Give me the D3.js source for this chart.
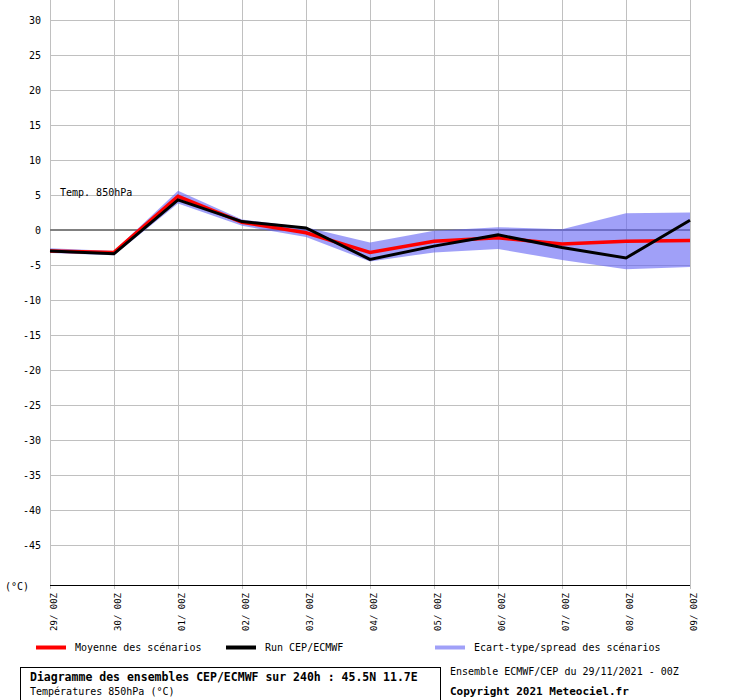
<!DOCTYPE html>
<html>
<head>
<meta charset="utf-8">
<script src="https://cdn.jsdelivr.net/npm/d3@7"></script>
<style>
  body { margin: 0; background: #fff; }
  text { font-family: "DejaVu Sans Mono", monospace; fill: #000; }
</style>
</head>
<body>
<script>
'use strict';

// ensemble data
const dayLabels = ["29/ 00Z", "30/ 00Z", "01/ 00Z", "02/ 00Z", "03/ 00Z", "04/ 00Z",
  "05/ 00Z", "06/ 00Z", "07/ 00Z", "08/ 00Z", "09/ 00Z"];
const meanTemp = [-3.0, -3.2, 4.8, 1.1, -0.4, -3.2, -1.6, -1.1, -2.0, -1.6, -1.5];
const runTemp = [-3.0, -3.4, 4.3, 1.2, 0.3, -4.2, -2.3, -0.7, -2.5, -4.0, 1.4];
const spreadHigh = [-2.6, -3.0, 5.6, 1.5, 0.4, -1.8, -0.1, 0.4, 0.1, 2.4, 2.5];
const spreadLow = [-3.3, -3.6, 3.8, 0.6, -1.0, -4.5, -3.2, -2.7, -4.3, -5.6, -5.3];
const yTicks = [30, 25, 20, 15, 10, 5, 0, -5, -10, -15, -20, -25, -30, -35, -40, -45];

(function() {

  let svg = "";

  window.onload = function() {
    svg = d3.select('body')
      .append('svg')
      .attr('width', 740)
      .attr('height', 700);

    let x = d3.scaleLinear().domain([0, dayLabels.length - 1]).range([50, 690]);
    let y = d3.scaleLinear().domain([-50, 30]).range([580, 20]);

    drawGrid(x, y);
    drawSeries(x, y);
    drawAxes(x, y);
    drawLegend();
    drawFooter();
  }

  // gray grid + zero line
  function drawGrid(x, y) {
    svg.selectAll('.vgrid')
      .data(dayLabels)
      .enter()
      .append('line')
      .attr('x1', (d, i) => x(i) + 0.5)
      .attr('x2', (d, i) => x(i) + 0.5)
      .attr('y1', 0)
      .attr('y2', 589)
      .attr('stroke', '#c0c0c0')
      .attr('stroke-width', 1);

    svg.selectAll('.hgrid')
      .data(yTicks.filter(t => t != 0))
      .enter()
      .append('line')
      .attr('x1', 50)
      .attr('x2', 690)
      .attr('y1', d => y(d) + 0.5)
      .attr('y2', d => y(d) + 0.5)
      .attr('stroke', '#c0c0c0')
      .attr('stroke-width', 1);

    svg.append('line')
      .attr('x1', 50)
      .attr('x2', 690)
      .attr('y1', y(0))
      .attr('y2', y(0))
      .attr('stroke', '#808080')
      .attr('stroke-width', 2);
  }

  function drawSeries(x, y) {
    let idx = d3.range(dayLabels.length);

    // spread band, semi transparent so grid shows through
    let area = d3.area()
      .x(i => x(i))
      .y0(i => y(spreadLow[i]))
      .y1(i => y(spreadHigh[i]));

    svg.append('path')
      .datum(idx)
      .attr('d', area)
      .attr('fill', 'rgb(97,97,243)')
      .attr('fill-opacity', 0.6);

    let meanLine = d3.line().x(i => x(i)).y(i => y(meanTemp[i]));
    let runLine = d3.line().x(i => x(i)).y(i => y(runTemp[i]));

    svg.append('path')
      .datum(idx)
      .attr('d', meanLine)
      .attr('fill', 'none')
      .attr('stroke', '#ff0000')
      .attr('stroke-width', 3.5);

    svg.append('path')
      .datum(idx)
      .attr('d', runLine)
      .attr('fill', 'none')
      .attr('stroke', '#000000')
      .attr('stroke-width', 3);

    svg.append('text')
      .attr('x', 60)
      .attr('y', 196)
      .style('font-size', '10px')
      .text('Temp. 850hPa');
  }

  function drawAxes(x, y) {
    // bottom axis line
    svg.append('line')
      .attr('x1', 50)
      .attr('x2', 690)
      .attr('y1', 585.5)
      .attr('y2', 585.5)
      .attr('stroke', '#000')
      .attr('stroke-width', 1);

    svg.selectAll('.ylab')
      .data(yTicks)
      .enter()
      .append('text')
      .attr('x', 41)
      .attr('y', d => y(d) + 4)
      .attr('text-anchor', 'end')
      .style('font-size', '10px')
      .text(d => d);

    svg.append('text')
      .attr('x', 5)
      .attr('y', 590)
      .style('font-size', '10px')
      .text('(°C)');

    svg.selectAll('.xlab')
      .data(dayLabels)
      .enter()
      .append('text')
      .attr('transform', (d, i) => 'translate(' + (x(i) + 7) + ',593) rotate(-90)')
      .attr('text-anchor', 'end')
      .style('font-size', '9px')
      .text(d => d);
  }

  function drawLegend() {
    let items = [
      {label: 'Moyenne des scénarios', color: '#ff0000', x: 36},
      {label: 'Run CEP/ECMWF', color: '#000000', x: 226},
      {label: 'Ecart-type/spread des scénarios', color: '#a0a0f8', x: 435}
    ];
    items.forEach(it => {
      svg.append('line')
        .attr('x1', it.x)
        .attr('x2', it.x + 30)
        .attr('y1', 647.5)
        .attr('y2', 647.5)
        .attr('stroke', it.color)
        .attr('stroke-width', 4);
      svg.append('text')
        .attr('x', it.x + 39)
        .attr('y', 651)
        .style('font-size', '10px')
        .text(it.label);
    });
  }

  function drawFooter() {
    svg.append('rect')
      .attr('x', 20.5)
      .attr('y', 667.5)
      .attr('width', 420)
      .attr('height', 40)
      .attr('fill', 'none')
      .attr('stroke', '#000')
      .attr('stroke-width', 1);

    svg.append('text')
      .attr('x', 30)
      .attr('y', 681)
      .style('font-size', '11.5px')
      .style('font-weight', 'bold')
      .text('Diagramme des ensembles CEP/ECMWF sur 240h : 45.5N 11.7E');

    svg.append('text')
      .attr('x', 30)
      .attr('y', 695)
      .style('font-size', '10px')
      .text('Températures 850hPa (°C)');

    svg.append('text')
      .attr('x', 450)
      .attr('y', 675)
      .style('font-size', '10px')
      .text('Ensemble ECMWF/CEP du 29/11/2021 - 00Z');

    svg.append('text')
      .attr('x', 450)
      .attr('y', 695)
      .style('font-size', '11px')
      .style('font-weight', 'bold')
      .text('Copyright 2021 Meteociel.fr');
  }

})();
</script>
</body>
</html>
